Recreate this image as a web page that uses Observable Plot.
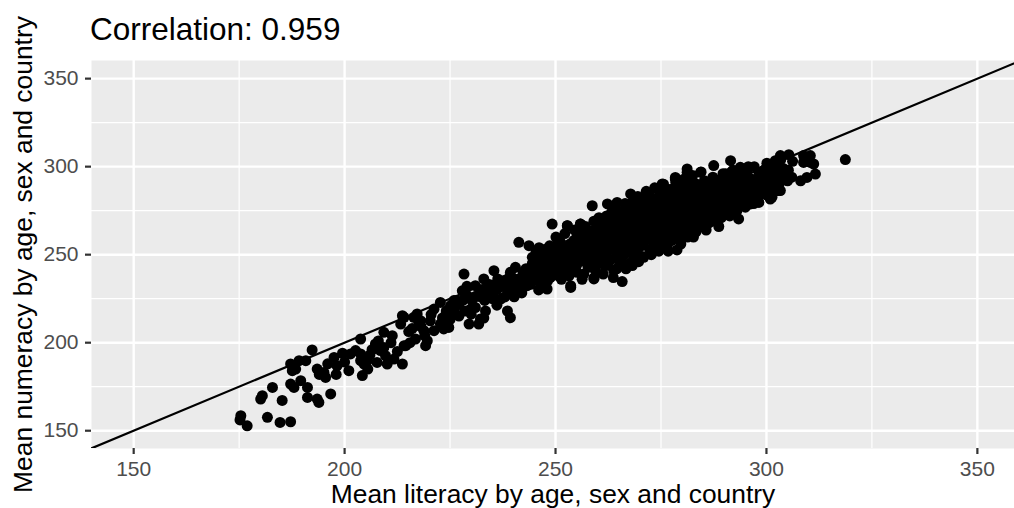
<!DOCTYPE html>
<html>
<head>
<meta charset="utf-8">
<script src="https://cdn.jsdelivr.net/npm/d3@7"></script>
<script src="https://cdn.jsdelivr.net/npm/@observablehq/plot@0.6"></script>
<style>
  html, body { margin: 0; padding: 0; background: #ffffff; overflow: hidden; }
  #wrap { position: relative; width: 1014px; height: 508px; }
  #title {
    position: absolute;
    left: 0;
    top: 0;
    box-sizing: border-box;
    height: 52px;
    padding: 14px 0 0 90px;
    font-family: "Liberation Sans", Arial, Helvetica, sans-serif;
    font-size: 31.5px;
    line-height: 1;
    color: #000;
    white-space: nowrap;
    z-index: 1;
  }
</style>
</head>
<body>
<div id="wrap">
  <div id="title"></div>
  <div id="chart"></div>
</div>
<script>
// Mean literacy vs mean numeracy, one point per age × sex × country group.
const titleText = "Correlation: 0.959";
const xLabel = "Mean literacy by age, sex and country";
const yLabel = "Mean numeracy by age, sex and country";

const majorTicks = [150, 200, 250, 300, 350];
const minorTicks = [175, 225, 275, 325];
const identityEnds = [140, 360];

// [literacy, numeracy] pairs — low-scoring tail
const lowerTail = [
  [175.4, 158.5], [175.2, 156.1], [176.9, 152.8], [181.7, 157.6], [184.7, 154.7], [187.2, 155.1],
  [180.1, 168.0], [180.5, 169.9], [182.9, 174.6], [185.2, 167.2], [187.2, 176.5], [188.0, 174.6],
  [189.6, 178.4], [191.2, 174.6], [191.2, 168.9], [193.5, 168.0], [193.9, 166.1], [196.7, 170.9],
  [187.2, 187.9], [187.6, 184.1], [188.4, 185.0], [189.2, 189.8], [190.8, 189.8], [192.3, 195.9],
  [193.5, 185.0], [195.1, 183.1], [195.5, 180.3], [197.5, 191.6], [198.2, 186.9], [201.0, 184.1],
  [201.4, 193.6], [202.6, 195.5], [203.8, 193.6], [203.8, 189.8], [204.2, 181.3], [203.8, 202.1],
  [204.6, 187.9], [205.4, 189.8], [207.3, 199.3], [207.7, 188.8], [208.5, 195.5], [209.3, 197.3],
  [209.7, 192.6], [210.1, 187.9], [211.7, 190.7], [213.7, 187.9], [209.3, 205.9], [211.3, 204.0],
  [214.1, 198.3], [213.7, 215.3], [213.3, 210.6], [216.8, 202.1], [217.2, 216.3], [217.6, 211.5],
  [198.0, 182.0], [200.0, 189.0], [199.5, 194.0], [196.0, 188.0], [194.0, 182.0], [205.5, 185.0],
  [206.0, 193.0], [206.5, 196.0], [208.0, 201.0], [211.0, 200.0], [212.5, 195.0]
];

// middle band, literacy 214–260
const midBand = [
  [214.1, 214.4], [214.5, 198.3], [219.2, 198.3], [219.6, 201.1], [218.8, 206.8], [218.0, 212.5],
  [216.4, 214.4], [221.2, 206.8], [223.5, 207.8], [224.7, 208.7], [222.7, 210.6], [221.2, 219.1],
  [222.7, 222.9], [225.1, 221.0], [225.9, 223.9], [227.9, 229.5], [228.3, 239.0], [229.1, 226.7],
  [229.9, 219.1], [229.5, 210.6], [231.8, 210.6], [232.2, 213.5], [231.0, 232.4], [233.0, 236.2],
  [233.4, 218.0], [233.8, 228.4], [235.4, 240.9], [237.0, 224.8], [237.8, 235.2], [238.6, 218.0],
  [239.3, 214.2], [238.6, 229.5], [239.3, 240.0], [240.5, 242.8], [240.9, 229.5], [242.1, 231.4],
  [243.3, 232.4], [241.3, 257.0], [243.7, 255.1], [244.5, 248.5], [244.9, 242.8], [245.7, 250.4],
  [246.5, 233.4], [247.3, 244.7], [248.0, 230.5], [248.8, 237.1], [249.6, 246.6], [250.4, 258.9],
  [251.2, 252.3], [252.8, 239.0], [253.6, 232.4], [254.4, 244.7], [255.1, 259.8], [255.9, 250.4],
  [256.7, 239.0], [257.5, 254.2], [258.7, 263.6], [259.1, 236.2], [260.3, 246.6], [249.2, 267.4],
  [252.8, 266.5], [255.9, 267.4], [215.2, 206.3], [218.1, 209.2], [220.3, 212.4], [223.2, 214.1],
  [226.0, 217.3], [227.1, 221.8], [230.2, 224.1], [232.0, 226.2], [234.1, 231.0], [236.2, 230.3],
  [238.1, 234.2], [240.0, 236.4], [242.2, 237.1], [244.0, 239.2], [226.1, 220.0], [228.2, 224.3],
  [231.1, 226.4], [232.3, 230.1], [234.3, 233.0], [235.2, 228.1], [236.3, 236.2], [237.2, 232.0],
  [239.1, 237.3], [241.0, 236.1], [242.3, 239.0], [243.1, 236.0], [245.0, 238.2], [233.2, 224.0],
  [230.0, 216.2], [227.1, 215.1], [225.0, 213.2], [224.1, 218.0], [236.1, 221.3], [240.2, 226.1],
  [242.0, 228.3], [244.1, 233.2], [215.5, 200.0], [216.0, 208.0], [219.0, 204.0], [220.5, 216.0],
  [223.0, 211.0], [224.0, 216.0], [226.5, 224.0], [228.5, 218.0], [229.0, 232.0], [231.0, 220.0],
  [233.0, 214.0], [235.0, 225.0], [236.5, 234.0], [238.0, 226.0], [239.5, 231.0], [241.0, 233.0],
  [243.0, 242.0], [244.5, 245.0], [246.0, 230.0], [247.5, 236.0]
];

// dense core, literacy 245–306
const denseCore = [
  [245, 240], [245, 247], [245.4, 252], [245.2, 236], [246, 244], [246.3, 250], [246.1, 254],
  [247, 239], [247.2, 246], [247.4, 253], [248, 242], [248.3, 249], [248.1, 235], [248.6, 255],
  [249, 245], [249.2, 252], [249.4, 240], [250, 248], [250.2, 255], [250.4, 243], [250.1, 260],
  [251, 241], [251.3, 250], [251.2, 257], [251.4, 236], [252, 246], [252.3, 253], [252.2, 262],
  [253, 243], [253.1, 249], [253.4, 256], [253.2, 238], [254, 251], [254.3, 258], [254.1, 247],
  [254.5, 264], [255, 244], [255.2, 254], [255.4, 260], [255.1, 240], [256, 249], [256.2, 257],
  [256.4, 263], [256.3, 236], [257, 246], [257.2, 252], [257.4, 259], [257.1, 266], [258, 243],
  [258.3, 255], [258.1, 261], [258.4, 250], [259, 248], [259.2, 257], [259.4, 264], [259.1, 269],
  [259.5, 241], [260, 252], [260.2, 259], [260.4, 245], [260.1, 266], [260.3, 271], [261, 255],
  [261.2, 262], [261.4, 249], [261.1, 268], [261.3, 239], [262, 250], [262.2, 258], [262.4, 265],
  [262.1, 272], [262.3, 244], [263, 254], [263.2, 261], [263.4, 267], [263.1, 247], [263.3, 274],
  [264, 257], [264.2, 263], [264.4, 251], [264.1, 270], [264.3, 276], [264.5, 242], [265, 253],
  [265.2, 260], [265.4, 266], [265.1, 272], [265.3, 246], [266, 256], [266.2, 263], [266.4, 269],
  [266.1, 275], [266.3, 250], [266.5, 279], [267, 259], [267.2, 265], [267.4, 252], [267.1, 271],
  [267.3, 277], [267.5, 245], [268, 255], [268.2, 262], [268.4, 268], [268.1, 273], [268.3, 280],
  [268.5, 248], [269, 258], [269.2, 264], [269.4, 270], [269.1, 276], [269.3, 252], [269.5, 283],
  [270, 261], [270.2, 267], [270.4, 272], [270.1, 278], [270.3, 255], [270.5, 249], [271, 257],
  [271.2, 264], [271.4, 269], [271.1, 275], [271.3, 281], [271.5, 286], [272, 260], [272.2, 266],
  [272.4, 271], [272.1, 277], [272.3, 253], [272.5, 283], [273, 262], [273.2, 268], [273.4, 274],
  [273.1, 279], [273.3, 256], [273.5, 288], [274, 259], [274.2, 265], [274.4, 270], [274.1, 276],
  [274.3, 282], [274.5, 252], [275, 263], [275.2, 268], [275.4, 273], [275.1, 279], [275.3, 285],
  [275.5, 257], [275.6, 290], [276, 260], [276.2, 266], [276.4, 271], [276.1, 277], [276.3, 283],
  [276.5, 255], [277, 264], [277.2, 269], [277.4, 275], [277.1, 280], [277.3, 287], [277.5, 258],
  [278, 262], [278.2, 267], [278.4, 272], [278.1, 278], [278.3, 284], [278.5, 291], [279, 265],
  [279.2, 270], [279.4, 276], [279.1, 282], [279.3, 259], [279.5, 288], [280, 263], [280.2, 268],
  [280.4, 274], [280.1, 279], [280.3, 285], [280.5, 293], [281, 266], [281.2, 271], [281.4, 277],
  [281.1, 283], [281.3, 260], [281.5, 289], [282, 264], [282.2, 269], [282.4, 275], [282.1, 280],
  [282.3, 286], [282.5, 295], [283, 267], [283.2, 272], [283.4, 278], [283.1, 284], [283.3, 263],
  [283.5, 290], [284, 270], [284.2, 275], [284.4, 281], [284.1, 287], [284.3, 266], [284.5, 297],
  [285, 268], [285.2, 273], [285.4, 279], [285.1, 285], [285.3, 292], [286, 271], [286.2, 276],
  [286.4, 282], [286.1, 288], [286.3, 268], [287, 269], [287.2, 274], [287.4, 280], [287.1, 286],
  [287.3, 294], [288, 272], [288.2, 278], [288.4, 283], [288.1, 290], [288.3, 270], [289, 275],
  [289.2, 280], [289.4, 285], [289.1, 292], [289.3, 271], [290, 273], [290.2, 278], [290.4, 284],
  [290.1, 289], [290.3, 296], [291, 276], [291.2, 281], [291.4, 287], [291.1, 293], [291.3, 272],
  [292, 279], [292.2, 284], [292.4, 290], [292.1, 298], [293, 275], [293.2, 282], [293.4, 287],
  [293.1, 295], [294, 280], [294.2, 285], [294.4, 291], [294.1, 299], [295, 277], [295.2, 283],
  [295.4, 289], [295.1, 296], [296, 281], [296.2, 287], [296.4, 293], [297, 279], [297.2, 285],
  [297.4, 291], [297.1, 300], [298, 283], [298.2, 289], [298.4, 295], [299, 286], [299.2, 292],
  [299.4, 298], [300, 284], [300.2, 290], [300.4, 297], [300.1, 302], [301, 288], [301.2, 294],
  [302, 286], [302.2, 292], [302.4, 299], [303, 290], [303.2, 296], [303.4, 304], [305, 292],
  [305.2, 298], [306, 294], [306.2, 303],
  [251.7, 247], [252.6, 250], [253.7, 253], [254.8, 241], [255.7, 247], [256.8, 253], [257.7, 249],
  [258.8, 246], [259.7, 253], [260.8, 262], [261.7, 258], [262.8, 254], [263.7, 264], [264.8, 260],
  [265.7, 249], [266.8, 266], [267.7, 262], [268.8, 258], [269.7, 267], [270.8, 264], [271.7, 260],
  [272.7, 274], [273.8, 270], [274.7, 262], [275.8, 276], [276.7, 268], [277.8, 272], [278.7, 281],
  [279.8, 274], [280.7, 270], [281.8, 280], [282.7, 276], [283.7, 287], [284.8, 283], [285.7, 276],
  [286.8, 285], [287.7, 283], [288.8, 287], [289.7, 278], [290.8, 291], [291.7, 284], [292.8, 288],
  [293.7, 292], [294.8, 288], [295.7, 292], [296.8, 284], [297.7, 288], [298.8, 292], [299.7, 295],
  [300.8, 292], [301.7, 298], [302.8, 295], [304.0, 299], [304.5, 293], [262.7, 269], [264.7, 273],
  [266.7, 272], [268.7, 276], [270.7, 281], [272.7, 279], [274.7, 285], [276.7, 287], [278.7, 289],
  [280.7, 288], [282.7, 291], [285.7, 290], [287.7, 291], [289.7, 296], [291.7, 297], [295.7, 300],
  [257.7, 243], [261.7, 244], [263.7, 237], [266.7, 242], [269.7, 246], [272.7, 250], [276.7, 252],
  [279.7, 256], [282.7, 260], [285.7, 264], [288.7, 266], [248.7, 251], [250.7, 238], [246.7, 242]
];

// upper edge of the cloud and high-scoring tail
const upperTail = [
  [253.6, 231.4], [259.1, 236.8], [265.8, 234.7], [263.8, 240.9], [268.2, 243.8], [270.9, 248.5],
  [274.9, 254.1], [278.8, 252.7], [258.7, 277.8], [262.3, 278.8], [264.6, 279.7], [267.8, 284.5],
  [272.1, 283.5], [275.3, 289.2], [278.4, 293.0], [281.2, 296.8], [252.8, 266.5], [255.9, 267.4],
  [318.7, 304.0], [305.3, 306.8], [308.8, 306.3], [310.4, 306.3], [311.2, 301.5], [311.6, 295.8],
  [309.6, 293.9], [308.1, 292.0], [310.4, 302.4], [308.8, 302.4], [304.9, 293.9], [303.3, 306.3],
  [302.1, 303.4], [300.9, 300.6], [299.8, 298.7], [298.2, 296.8], [303.3, 286.4], [300.9, 281.6],
  [298.2, 279.7], [300.2, 290.2], [299.4, 293.9], [293.4, 270.3], [291.5, 303.4], [287.5, 300.6],
  [293.8, 299.6], [295.4, 297.7], [292.2, 295.8], [294.6, 290.2], [296.2, 286.4], [293.8, 282.6],
  [292.2, 276.9], [290.7, 278.8], [289.1, 282.6], [287.5, 271.3], [285.1, 267.6], [296.2, 278.8],
  [284.4, 296.8], [281.2, 298.7], [275.3, 290.2], [278.4, 293.9], [302.9, 286.4], [301.3, 282.6]
];

const groups = [...lowerTail, ...midBand, ...denseCore, ...upperTail]
  .map(([literacy, numeracy]) => ({literacy, numeracy}));
const identityLine = identityEnds.map((v) => ({literacy: v, numeracy: v}));

document.getElementById("title").textContent = titleText;

const chart = Plot.plot({
  width: 1014,
  height: 508,
  marginLeft: 91,
  marginRight: 0,
  marginTop: 60,
  marginBottom: 60,
  style: {fontFamily: "'Liberation Sans', Arial, Helvetica, sans-serif", background: "#ffffff"},
  x: {domain: [140, 358.8]},
  y: {domain: [139.9, 360.3]},
  marks: [
    Plot.frame({fill: "#EBEBEB", stroke: "none"}),
    Plot.gridX(minorTicks, {stroke: "#ffffff", strokeOpacity: 1, strokeWidth: 1.2}),
    Plot.gridY(minorTicks, {stroke: "#ffffff", strokeOpacity: 1, strokeWidth: 1.2}),
    Plot.gridX(majorTicks, {stroke: "#ffffff", strokeOpacity: 1, strokeWidth: 2.4}),
    Plot.gridY(majorTicks, {stroke: "#ffffff", strokeOpacity: 1, strokeWidth: 2.4}),
    Plot.line(identityLine, {x: "literacy", y: "numeracy", stroke: "#000000", strokeWidth: 2.2, clip: true}),
    Plot.dot(groups, {x: "literacy", y: "numeracy", r: 5.5, fill: "#000000", stroke: "none"}),
    Plot.axisX(majorTicks, {tickSize: 6, tickPadding: 7, fontSize: 21, stroke: "#333333", strokeWidth: 2.2, fill: "#4D4D4D", label: null}),
    Plot.axisY(majorTicks, {tickSize: 6, tickPadding: 7, fontSize: 21, stroke: "#333333", strokeWidth: 2.2, fill: "#4D4D4D", label: null}),
    Plot.axisX([], {label: xLabel, labelAnchor: "center", labelArrow: "none", labelOffset: 54, fontSize: 26.4, fill: "#000000", tickSize: 0}),
    Plot.axisY([], {label: yLabel, labelAnchor: "center", labelArrow: "none", labelOffset: 78, fontSize: 26.4, fill: "#000000", tickSize: 0})
  ]
});
document.getElementById("chart").appendChild(chart);
</script>
</body>
</html>
